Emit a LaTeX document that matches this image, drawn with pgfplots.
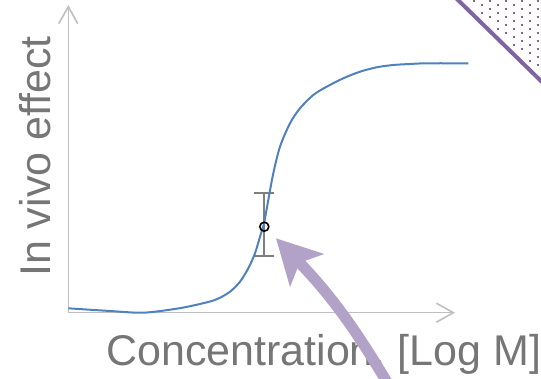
\documentclass[border=0pt]{standalone}
\usepackage{fontspec}
\setmainfont{Liberation Sans}
\usepackage{pgfplots}
\pgfplotsset{compat=1.18}
\usetikzlibrary{arrows.meta}
\definecolor{curveblue}{HTML}{4F81BD}
\definecolor{axisgray}{HTML}{BFBFBF}
\definecolor{labelgray}{HTML}{767676}
\definecolor{errgray}{HTML}{7F7F7F}
\definecolor{arrowlilac}{HTML}{B3A2C7}
\definecolor{cornerviolet}{HTML}{8064A2}

\begin{document}
\begin{tikzpicture}[x=1pt,y=1pt]
\useasboundingbox (0,0) rectangle (541,379);
\clip (0,0) rectangle (541,379);
\begin{axis}[
    at={(68.3pt,66.3pt)}, anchor=south west,
    scale only axis, width=386.7pt, height=307.7pt,
    xmin=0, xmax=386.7, ymin=0, ymax=307.7,
    axis line style={draw=none}, ticks=none, clip=false,
    xlabel={Concentration, [Log M]},
    ylabel={In vivo effect},
    label style={font=\fontsize{43}{51}\selectfont, text=labelgray, inner sep=0pt},
    xlabel style={at={(axis description cs:0.0975,-0.170)}, anchor=base west},
    ylabel style={at={(axis description cs:-0.0473,0.116)}, anchor=base west},
  ]
  % axes with open arrow heads
  \draw[axisgray, line width=1.6pt,
        {Straight Barb[length=17pt,width=19pt]}-{Straight Barb[length=17pt,width=19pt]}]
    (axis cs:0,307.7) -- (axis cs:0,0) -- (axis cs:386.7,0);

  % measured point with error bar
  \addplot[only marks, mark=o, mark size=4.5pt,
           mark options={line width=1.6pt, draw=black},
           error bars/.cd, y dir=both, y explicit,
           error bar style={draw=errgray, line width=2pt},
           error mark options={rotate=90, draw=errgray, line width=2pt, mark size=10pt}]
    coordinates {(196,86) += (0,33.4) -= (0,29.3)};

  % dose-response curve
  \addplot[curveblue, line width=2pt, smooth, tension=0.5] coordinates {
    (0,4.4) (41.7,1.7) (75,0) (108.4,4) (131.7,8.7) (148.4,13.4)
    (161.7,21) (171.7,31) (180,44.4) (186.7,59.4) (191.7,76) (195.7,89.4)
    (200,112.7) (205,139.4) (211.7,166) (221.7,189.4) (231.7,204.4)
    (245,217.7) (258.4,226) (275,234.4) (291.7,241) (308.4,245.4)
    (325,247.7) (341.7,248.7) (358.4,249.4) (400,249.4)
  };
\end{axis}

% pointer arrow
\draw[arrowlilac, line width=11pt, -{Stealth[length=44pt, width=46pt, inset=10pt]}]
  (395,-17) to[out=120, in=-46] (276,140.7);

% decorative corner
\foreach \i in {0,...,8}{
  \foreach \j in {0,...,10}{
    \pgfmathsetmacro{\dx}{474+8*\i}
    \pgfmathsetmacro{\dy}{1+4*mod(\i,2)+8*\j}
    \pgfmathsetmacro{\dlim}{(\dx-458)*0.976-7}
    \ifdim \dy pt<\dlim pt
      \fill[cornerviolet] (\dx-1,379-\dy-1) rectangle ++(2,2);
    \fi
  }
}
\draw[cornerviolet, line width=4pt] (455,381.9) -- (545,294.1);
\end{tikzpicture}
\end{document}
